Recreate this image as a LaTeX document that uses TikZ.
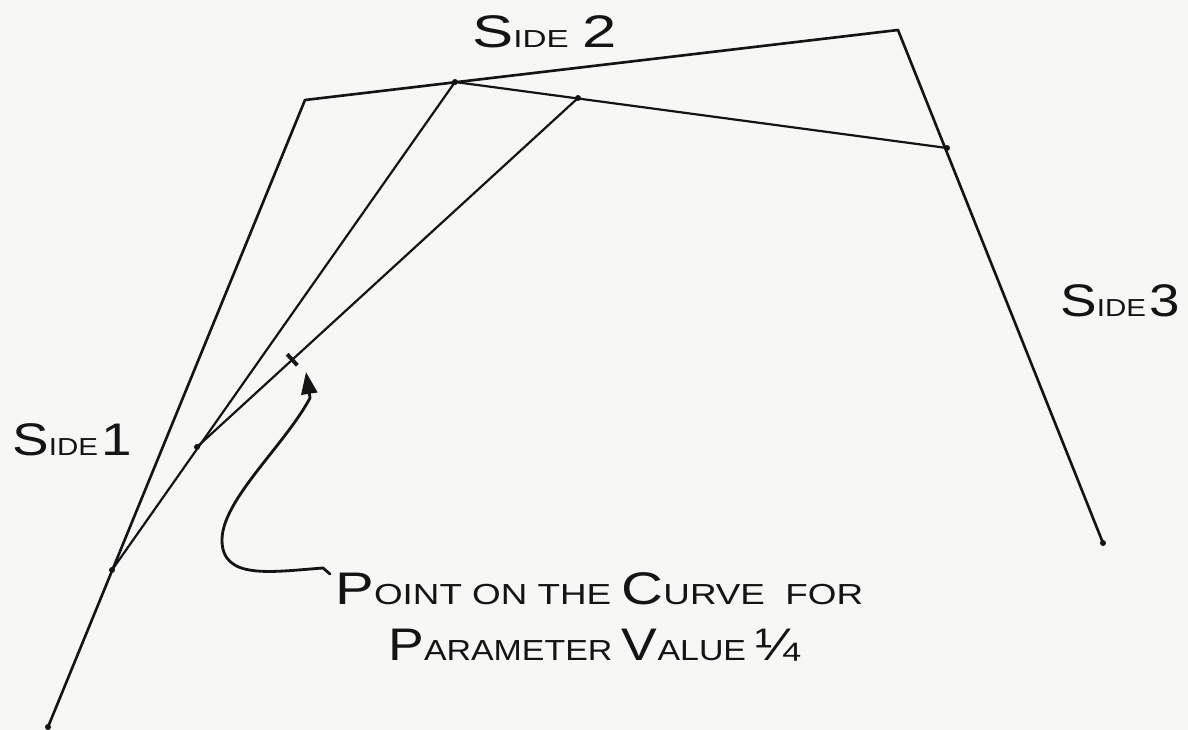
\documentclass[tikz,border=0pt]{standalone}
\usepackage{fontspec}
\setmainfont{Liberation Sans}
\usetikzlibrary{calc,arrows.meta}
\definecolor{paper}{RGB}{247,247,246}
\definecolor{ink}{RGB}{20,20,20}
\newcommand\bigc[1]{{\fontsize{26}{26}\selectfont #1}}
\newcommand\smc[1]{{\fontsize{16.5}{16.5}\selectfont #1}}
\newcommand\sidec[1]{{\fontsize{14}{14}\selectfont #1}}
\tikzset{
  poly/.style={draw=ink, line width=1.5pt, line join=round, line cap=round},
  inner/.style={draw=ink, line width=1.25pt, line cap=round},
  dotmark/.style={fill=ink, draw=none},
  lbl/.style={anchor=base west, inner sep=0pt, text=ink},
  pointer/.style={draw=ink, line width=1.6pt, line cap=round, -{Triangle[length=0.44cm,width=0.32cm]}}
}
\begin{document}
\begin{tikzpicture}[x=0.02cm,y=-0.02cm]
\fill[paper] (0,0) rectangle (1188,730);
\useasboundingbox (0,0) rectangle (1188,730);
% control polygon
\coordinate (P0) at (48,727);
\coordinate (P1) at (305,100);
\coordinate (P2) at (898,30);
\coordinate (P3) at (1103,543);
% first level
\coordinate (Q0) at (112,570);
\coordinate (Q1) at (455,82);
\coordinate (Q2) at (947,148);
% second level
\coordinate (R0) at (197,447);
\coordinate (R1) at (578,98);
% point on curve
\coordinate (S) at ($(R0)!0.25!(R1)$);
\draw[poly] (P0) -- (P1) -- (P2) -- (P3);
\draw[inner] (Q0) -- (Q1) -- (Q2);
\draw[inner] (R0) -- (R1);
\foreach \p in {P0,P3,Q0,R0,Q1,R1,Q2}{\fill[dotmark] (\p) circle (3);}
\draw[ink, line width=2.2pt] ($(S)!0.15cm!90:(R1)$) -- ($(S)!0.15cm!-90:(R1)$);
% labels
\node[lbl] (s2) at (472,48) {\scalebox{1.35}[1]{\bigc{S}\sidec{IDE}\ \ \bigc{2}}};
\node[lbl] (s3) at (1060,316) {\scalebox{1.2}[1]{\bigc{S}\sidec{IDE}\,\bigc{3}}};
\node[lbl] (s1) at (12,455) {\scalebox{1.2}[1]{\bigc{S}\sidec{IDE}\,\bigc{1}}};
\node[lbl] (t1) at (335,604) {\scalebox{1.27}[1]{\bigc{P}\smc{OINT ON THE }\bigc{C}\smc{URVE\ \ FOR}}};
\node[lbl] (t2) at (388,660) {\scalebox{1.17}[1]{\bigc{P}\smc{ARAMETER }\bigc{V}\smc{ALUE }\bigc{¼}}};
% pointer
\coordinate (c0) at (330,574);
\coordinate (tip) at (306,372);
\draw[pointer] (c0) -- (323,568) .. controls (270,572) and (222,580) .. (222,540)
  .. controls (222,500) and (285,445) .. (310,398) -- (tip);
\end{tikzpicture}
\end{document}
